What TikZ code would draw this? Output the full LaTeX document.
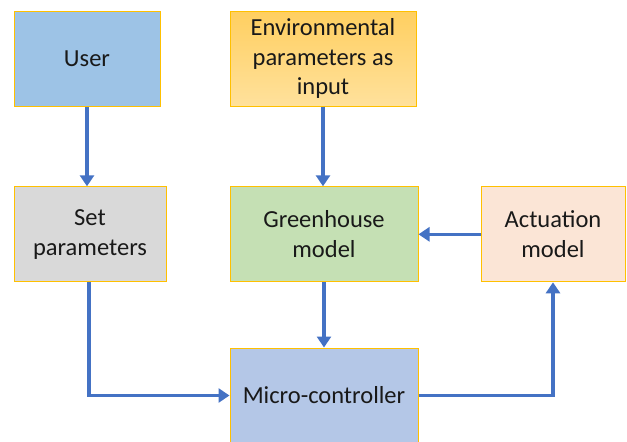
\documentclass[tikz,border=0pt]{standalone}
\usepackage{fontspec}
\setmainfont{Carlito}
\usetikzlibrary{arrows.meta}
\definecolor{edgeY}{HTML}{FFC000}
\definecolor{lineB}{HTML}{4472C4}
\definecolor{userF}{HTML}{9DC3E6}
\definecolor{envTop}{HTML}{FFCF60}
\definecolor{envBot}{HTML}{FFE19C}
\definecolor{setF}{HTML}{D9D9D9}
\definecolor{ghF}{HTML}{C5E0B4}
\definecolor{actF}{HTML}{FBE5D6}
\definecolor{mcF}{HTML}{B4C7E7}
\tikzset{
  blk/.style={draw=edgeY, line width=1pt, rectangle, align=center, inner sep=0pt,
    minimum height=95pt, font=\fontsize{24.5}{29.5}\selectfont, text=black!90},
  conn/.style={draw=lineB, line width=3.2pt, -{Triangle[length=11pt,width=14pt]}}
}
\begin{document}
\begin{tikzpicture}[x=1pt,y=-1pt]
\useasboundingbox (0,0) rectangle (627,442);
\node[blk, fill=userF, minimum width=146pt] (user) at (87,59) {User};
\node[blk, top color=envTop, bottom color=envBot, minimum width=186pt] (env) at (323,58.5) {Environmental\\parameters as\\input};
\node[blk, fill=setF, minimum width=152pt] (set) at (90,234.3) {Set\\parameters};
\node[blk, fill=ghF, minimum width=188pt] (gh) at (324,234.3) {Greenhouse\\model};
\node[blk, fill=actF, minimum width=144pt] (act) at (553,234.3) {Actuation\\model};
\node[blk, fill=mcF, minimum width=188pt] (mc) at (324,395.5) {Micro-controller};
\draw[conn] (user.south) -- (user.south |- set.north);
\draw[conn] (env.south) -- (env.south |- gh.north);
\draw[conn] (gh.south) -- (mc.north);
\draw[conn] (act.west) -- (gh.east);
\draw[conn] ([xshift=-1pt]set.south) |- (mc.west);
\draw[conn] (mc.east) -| (act.south);
\end{tikzpicture}
\end{document}
